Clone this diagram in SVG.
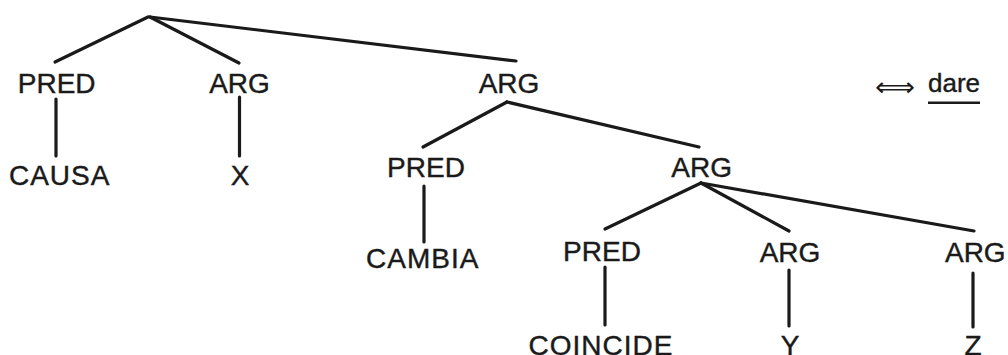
<svg xmlns="http://www.w3.org/2000/svg" width="1008" height="355" viewBox="0 0 1008 355">
<style>
.t{font-family:"Liberation Sans",Arial,sans-serif;font-size:28px;fill:#1a1a1a;stroke:#1a1a1a;stroke-width:0.4;text-anchor:middle}
.e{stroke:#1a1a1a;stroke-width:3.2;stroke-linecap:round;fill:none}
</style>
<rect width="1008" height="355" fill="#ffffff"/>
<g id="connectors">
<line class="e" x1="148" y1="17" x2="55" y2="62"/>
<line class="e" x1="150" y1="17" x2="239" y2="63"/>
<line class="e" x1="150" y1="17" x2="516" y2="61"/>
<line class="e" x1="56" y1="99" x2="56" y2="156"/>
<line class="e" x1="239.5" y1="97" x2="239.5" y2="156"/>
<line class="e" x1="507" y1="102" x2="423" y2="147"/>
<line class="e" x1="507" y1="102" x2="699" y2="147"/>
<line class="e" x1="424" y1="186" x2="424" y2="242"/>
<line class="e" x1="701" y1="183" x2="605" y2="229"/>
<line class="e" x1="701" y1="183" x2="789" y2="231"/>
<line class="e" x1="701" y1="183" x2="974" y2="231"/>
<line class="e" x1="605" y1="267" x2="605" y2="325"/>
<line class="e" x1="789" y1="270" x2="789" y2="326"/>
<line class="e" x1="973" y1="273" x2="973" y2="327"/>
</g>
<g id="pred1"><text class="t" x="56.7" y="93">PRED</text></g>
<g id="arg1"><text class="t" x="239.5" y="93">ARG</text></g>
<g id="arg2"><text class="t" x="509" y="92.5">ARG</text></g>
<g id="causa"><text class="t" x="59.7" y="184.5" letter-spacing="1">CAUSA</text></g>
<g id="x"><text class="t" x="240" y="184.5">X</text></g>
<g id="pred2"><text class="t" x="426" y="176.7">PRED</text></g>
<g id="arg3"><text class="t" x="701.7" y="176.7">ARG</text></g>
<g id="cambia"><text class="t" x="422.7" y="268.3" letter-spacing="1">CAMBIA</text></g>
<g id="pred3"><text class="t" x="602" y="261">PRED</text></g>
<g id="arg4"><text class="t" x="790" y="261.5">ARG</text></g>
<g id="arg5"><text class="t" x="975.3" y="261.5">ARG</text></g>
<g id="coincide"><text class="t" x="601" y="354.5" letter-spacing="1">COINCIDE</text></g>
<g id="y"><text class="t" x="790" y="354.5">Y</text></g>
<g id="z"><text class="t" x="973" y="354.5">Z</text></g>
<g id="dare">
<text x="875" y="96" font-family="DejaVu Sans,sans-serif" font-size="26" fill="#1a1a1a" textLength="40" lengthAdjust="spacingAndGlyphs">⟺</text>
<text x="928" y="91.7" font-family="Liberation Sans,Arial,sans-serif" font-size="26" fill="#1a1a1a" stroke="#1a1a1a" stroke-width="0.4">dare</text>
<line x1="928" y1="102.7" x2="980" y2="102.7" stroke="#1a1a1a" stroke-width="2.5"/>
</g>
</svg>
